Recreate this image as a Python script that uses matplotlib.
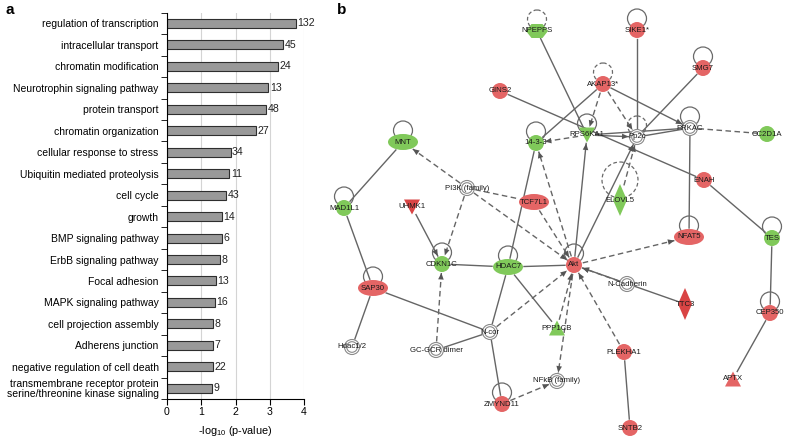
import numpy as np
import matplotlib.pyplot as plt
from matplotlib.patches import Ellipse, Circle, Polygon

plt.rcParams['font.family'] = ['Liberation Sans', 'DejaVu Sans']

# ---- panel a: enrichment terms
terms = ['regulation of transcription', 'intracellular transport', 'chromatin modification',
         'Neurotrophin signaling pathway', 'protein transport', 'chromatin organization',
         'cellular response to stress', 'Ubiquitin mediated proteolysis', 'cell cycle',
         'growth', 'BMP signaling pathway', 'ErbB signaling pathway', 'Focal adhesion',
         'MAPK signaling pathway', 'cell projection assembly', 'Adherens junction',
         'negative regulation of cell death',
         'transmembrane receptor protein\nserine/threonine kinase signaling']
neglogp = [3.76, 3.40, 3.25, 2.96, 2.90, 2.59, 1.86, 1.82, 1.72, 1.60, 1.60, 1.54,
           1.43, 1.40, 1.35, 1.35, 1.35, 1.32]
gene_counts = [132, 45, 24, 13, 48, 27, 34, 11, 43, 14, 6, 8, 13, 16, 8, 7, 22, 9]

# ---- panel b: network (layout in picture pixels)
node_names = ['NPEPPS', 'GINS2', 'MNT', '14-3-3', 'PI3K (family)', 'TCF7L1', 'MAD1L1', 'UHMK1',
              'SIKE1*', 'SMG7', 'AKAP13*', 'RPS6KA1', 'Pp2c', 'PRKAC', 'CC2D1A', 'ENAH', 'ELOVL5',
              'CDKN1C', 'HDAC7', 'SAP30', 'N-cor', 'Hdac1/2', 'GC-GCR dimer', 'ZMYND11',
              'NFkB (family)', 'PPP1CB', 'Akt', 'NFAT5', 'TES', 'N-Cadherin', 'TTC3', 'CEP350',
              'PLEKHA1', 'APTX', 'SNTB2']
node_x = [537, 500, 403, 536, 467, 534, 344, 412,
          637, 703, 603, 587, 637, 690, 767, 704, 620,
          442, 508, 373, 490, 352, 436, 502,
          557, 557, 574, 689, 772, 627, 685, 770,
          624, 733, 630]
node_y = [31, 91, 142, 143, 188, 202, 208, 207,
          30, 68, 84, 135, 137, 128, 134, 180, 200,
          264, 267, 288, 332, 347, 350, 404,
          381, 328, 265, 237, 238, 284, 304, 313,
          352, 379, 428]
node_shape = ['hexagon', 'circle', 'ellipse', 'circle', 'complex', 'ellipse', 'circle', 'tri_down',
              'circle', 'circle', 'circle', 'tri_down', 'complex', 'complex', 'circle', 'circle', 'diamond',
              'circle', 'ellipse', 'ellipse', 'complex', 'complex', 'complex', 'circle',
              'complex', 'tri_up', 'circle', 'ellipse', 'circle', 'complex', 'diamond', 'circle',
              'circle', 'tri_up', 'circle']
node_state = ['down', 'up', 'down', 'down', 'none', 'up', 'down', 'up2',
              'up', 'up', 'up', 'down', 'none', 'none', 'down', 'up', 'down',
              'down', 'down', 'up', 'none', 'none', 'none', 'up',
              'none', 'down', 'up', 'up', 'down', 'none', 'up2', 'up',
              'up', 'up', 'up']

edges = [('NPEPPS', 'RPS6KA1', '-', False), ('GINS2', 'ENAH', '-', False),
         ('MNT', 'MAD1L1', '-', False), ('AKAP13*', '14-3-3', '-', False),
         ('AKAP13*', 'PRKAC', '-', True), ('SIKE1*', 'Pp2c', '-', False),
         ('SMG7', 'Pp2c', '-', False), ('RPS6KA1', 'Pp2c', '-', True),
         ('RPS6KA1', 'PRKAC', '-', False), ('Pp2c', 'PRKAC', '-', False),
         ('PRKAC', 'NFAT5', '-', False), ('ENAH', 'TES', '-', False),
         ('TES', 'CEP350', '-', False), ('CEP350', 'APTX', '-', False),
         ('14-3-3', 'HDAC7', '-', False), ('Akt', 'RPS6KA1', '-', True),
         ('Akt', 'Pp2c', '-', True), ('HDAC7', 'Akt', '-', False),
         ('HDAC7', 'CDKN1C', '-', False), ('HDAC7', 'PPP1CB', '-', False),
         ('HDAC7', 'N-cor', '-', False), ('UHMK1', 'CDKN1C', '-', True),
         ('TTC3', 'Akt', '-', True), ('PLEKHA1', 'SNTB2', '-', False),
         ('SAP30', 'MAD1L1', '-', False), ('SAP30', 'Hdac1/2', '-', False),
         ('SAP30', 'N-cor', '-', False), ('GC-GCR dimer', 'N-cor', '-', False),
         ('N-cor', 'ZMYND11', '-', False),
         ('PI3K (family)', 'MNT', '--', True), ('PI3K (family)', 'TCF7L1', '--', False),
         ('PI3K (family)', 'Akt', '--', True), ('PI3K (family)', 'CDKN1C', '--', True),
         ('RPS6KA1', '14-3-3', '--', True), ('AKAP13*', 'RPS6KA1', '--', True),
         ('AKAP13*', 'Pp2c', '--', True), ('PRKAC', 'CC2D1A', '--', False),
         ('ELOVL5', 'Pp2c', '--', True), ('Akt', '14-3-3', '--', True),
         ('TCF7L1', 'Akt', '--', True), ('Akt', 'NFAT5', '--', True),
         ('N-Cadherin', 'Akt', '--', True), ('PLEKHA1', 'Akt', '--', True),
         ('Akt', 'NFkB (family)', '--', True), ('PPP1CB', 'Akt', '--', True),
         ('N-cor', 'Akt', '--', True), ('GC-GCR dimer', 'CDKN1C', '--', True),
         ('ZMYND11', 'NFkB (family)', '--', True)]
loops_solid = ['MNT', 'MAD1L1', '14-3-3', 'CDKN1C', 'HDAC7', 'SAP30', 'ZMYND11', 'NFAT5',
               'TES', 'CEP350', 'SIKE1*', 'SMG7', 'Akt', 'RPS6KA1', 'PRKAC']
loops_dashed = ['NPEPPS', 'AKAP13*', 'Pp2c', 'ELOVL5']

fig = plt.figure(figsize=(7.87, 4.38), dpi=100)

# ---------------- a
ax = fig.add_axes([167 / 787, 1 - 399 / 438, (304 - 167) / 787, (399 - 12.7) / 438])
y = np.arange(len(terms))
ax.barh(y, neglogp, height=0.42, color='#999999', edgecolor='#2e2e2e', linewidth=0.8, zorder=2)
for i, (v, c) in enumerate(zip(neglogp, gene_counts)):
    ax.text(v + 0.04, i, str(c), va='center', ha='left', fontsize=7.6, color='#222222')
ax.set_xlim(0, 4)
ax.set_ylim(len(terms) - 0.5, -0.45)
ax.set_yticks(y)
ax.set_yticklabels(terms, fontsize=7.5, linespacing=0.95)
ax.set_yticks(np.arange(len(terms) + 1) - 0.5, minor=True)
ax.tick_params(axis='y', which='major', length=0, pad=6)
ax.tick_params(axis='y', which='minor', length=4, direction='out')
ax.set_xticks([0, 1, 2, 3, 4])
ax.tick_params(axis='x', length=4, direction='out', labelsize=7.6, pad=2)
ax.xaxis.grid(True, color='#d4d4d4', linewidth=0.8)
ax.set_axisbelow(True)
for s in ['top', 'right']:
    ax.spines[s].set_visible(False)
ax.set_xlabel(r'-log$_{\mathregular{10}}$ (p-value)', fontsize=7.8, labelpad=5)
fig.text(6 / 787, 1 - 10 / 438, 'a', fontsize=11, fontweight='bold', va='center')

# ---------------- b
bx = fig.add_axes([330 / 787, 0, 457 / 787, 1])
bx.set_xlim(330, 787)
bx.set_ylim(438, 0)
bx.axis('off')
fig.text(337 / 787, 1 - 10 / 438, 'b', fontsize=11, fontweight='bold', va='center')

colors = {'up': '#e46565', 'up2': '#d94444', 'down': '#80c95a', 'none': 'white'}
size = {'circle': (8, 8), 'ellipse': (15, 8), 'tri_down': (8, 7.5), 'tri_up': (8, 7.5),
        'diamond': (7, 16), 'hexagon': (11, 7), 'complex': (7.5, 7.5)}
pos = {n: (x, yy) for n, x, yy in zip(node_names, node_x, node_y)}
shape_of = dict(zip(node_names, node_shape))
ecol = '#656565'


def rad(n, u):
    rx, ry = size[shape_of[n]]
    return 1 / np.sqrt((u[0] / rx) ** 2 + (u[1] / ry) ** 2) + 1


for a, b, ls, arrow in edges:
    p1, p2 = np.array(pos[a], float), np.array(pos[b], float)
    u = (p2 - p1) / np.linalg.norm(p2 - p1)
    s = p1 + rad(a, u) * u
    e = p2 - rad(b, -u) * u
    if ls == '--':
        bx.plot([s[0], e[0]], [s[1], e[1]], color=ecol, lw=1.0, dashes=(4, 2.5), zorder=1)
    else:
        bx.plot([s[0], e[0]], [s[1], e[1]], color=ecol, lw=1.0, zorder=1)
    if arrow:
        nrm = np.array([-u[1], u[0]])
        base = e - 6.5 * u
        bx.add_patch(Polygon([e, base + 2.8 * nrm, base - 2.8 * nrm], closed=True,
                             facecolor='#555555', edgecolor='none', zorder=2))

for n in loops_solid + loops_dashed:
    x, yy = pos[n]
    r = 18 if n == 'ELOVL5' else 9.5
    off = 20 if n == 'ELOVL5' else 11.5
    bx.add_patch(Circle((x, yy - off), r, fill=False, edgecolor='#6a6a6a', lw=0.9,
                        linestyle=(0, (3, 2)) if n in loops_dashed else '-', zorder=1))

for n, x, yy, sh, st in zip(node_names, node_x, node_y, node_shape, node_state):
    fc = colors[st]
    rx, ry = size[sh]
    ec = 'none' if st != 'none' else '#8a8a8a'
    if sh == 'circle':
        p = Circle((x, yy), rx, facecolor=fc, edgecolor=ec, zorder=3)
    elif sh == 'ellipse':
        p = Ellipse((x, yy), 2 * rx, 2 * ry, facecolor=fc, edgecolor=ec, zorder=3)
    elif sh == 'tri_down':
        p = Polygon([(x - rx, yy - ry), (x + rx, yy - ry), (x, yy + ry)], facecolor=fc, edgecolor=ec, zorder=3)
    elif sh == 'tri_up':
        p = Polygon([(x - rx, yy + ry), (x + rx, yy + ry), (x, yy - ry)], facecolor=fc, edgecolor=ec, zorder=3)
    elif sh == 'diamond':
        p = Polygon([(x, yy - ry), (x + rx, yy), (x, yy + ry), (x - rx, yy)], facecolor=fc, edgecolor=ec, zorder=3)
    elif sh == 'hexagon':
        p = Polygon([(x - rx, yy), (x - rx / 2, yy - ry), (x + rx / 2, yy - ry), (x + rx, yy),
                     (x + rx / 2, yy + ry), (x - rx / 2, yy + ry)], facecolor=fc, edgecolor=ec, zorder=3)
    else:
        p = Circle((x, yy), rx, facecolor='white', edgecolor='#8a8a8a', lw=0.8, zorder=3)
        bx.add_patch(Circle((x, yy), rx - 2.2, fill=False, edgecolor='#8a8a8a', lw=0.8, zorder=3.5))
    bx.add_patch(p)
    bx.text(x, yy, n, ha='center', va='center', fontsize=5.6, color='#1a1a1a', zorder=4)

plt.savefig('out.png', dpi=100)
